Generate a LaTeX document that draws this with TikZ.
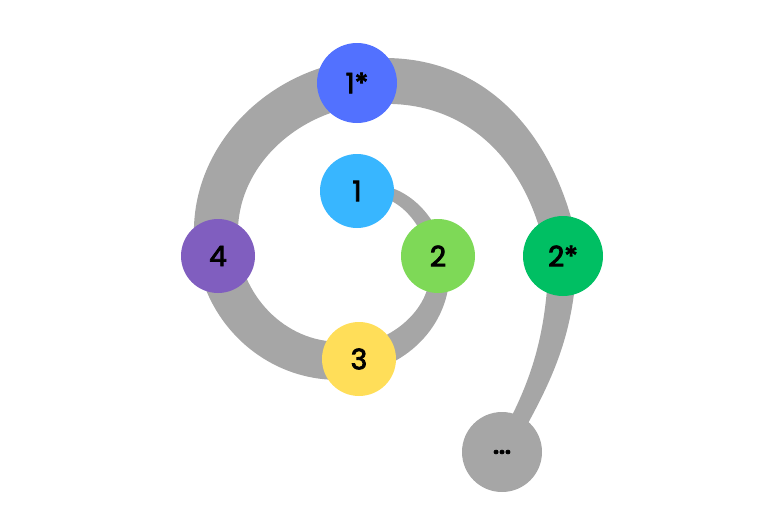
\documentclass[tikz,border=0pt]{standalone}
\usepackage{fontspec}
\setmainfont{Poppins}
\newfontfamily\bubblefont{Poppins}[FakeBold=3]
\usetikzlibrary{calc,backgrounds}
\definecolor{bandgray}{HTML}{A6A6A6}
\definecolor{stepone}{HTML}{38B6FF}
\definecolor{steptwo}{HTML}{7ED957}
\definecolor{stepthree}{HTML}{FFDE59}
\definecolor{stepfour}{HTML}{805EBF}
\definecolor{roundone}{HTML}{5271FF}
\definecolor{roundtwo}{HTML}{00BF63}
% tapered piece of the spiral: from, to, out, in, start width, end width, looseness
\newcommand\spiralpart[7]{\fill[bandgray] ($(#1.center)+(#3+90:#5/2)$) to[out=#3,in=#4,looseness=#7] ($(#2.center)+(#4-90:#6/2)$) -- ($(#2.center)+(#4+90:#6/2)$) to[out=#4,in=#3,looseness=#7] ($(#1.center)+(#3-90:#5/2)$) -- cycle;}
\tikzset{
	bubble/.style={circle, inner sep=0pt, minimum size=22.2mm, fill=#1, text=black, font=\fontsize{24}{24}\bubblefont},
	bigbubble/.style={bubble=#1, minimum size=24mm}
}

\begin{document}
\begin{tikzpicture}[x=0.3mm, y=0.3mm]
			%%%%% START %%%%%
			\useasboundingbox (0, 0) rectangle (768, -512);
			
			\node[bubble=stepone] (one) at (357, -191) {1};
			\node[bubble=steptwo] (two) at (438, -256) {2};
			\node[bubble=stepthree] (three) at (359, -359) {3};
			\node[bubble=stepfour] (four) at (218, -256) {4};
			\node[bigbubble=roundone] (oneagain) at (357, -83) {1*};
			\node[bigbubble=roundtwo] (twoagain) at (563, -256) {2*};
			\node[bigbubble=bandgray] (more) at (502, -452) {\fontsize{18}{18}\selectfont\raisebox{-1mm}{\textbf{...}}};
			
			\begin{scope}[on background layer]
			\spiralpart{one}{two}{12}{102}{11}{16}{1}
			\spiralpart{two}{three}{-78}{10}{19}{28}{1}
			\spiralpart{three}{four}{190}{-80}{38}{42}{1}
			\spiralpart{four}{oneagain}{100}{188}{44}{46}{1}
			\spiralpart{oneagain}{twoagain}{8}{100}{46}{33}{1.08}
			\spiralpart{twoagain}{more}{-92}{60}{28}{17}{1}
			\end{scope}
			
			%%%%% END %%%%%
\end{tikzpicture}
\end{document}
